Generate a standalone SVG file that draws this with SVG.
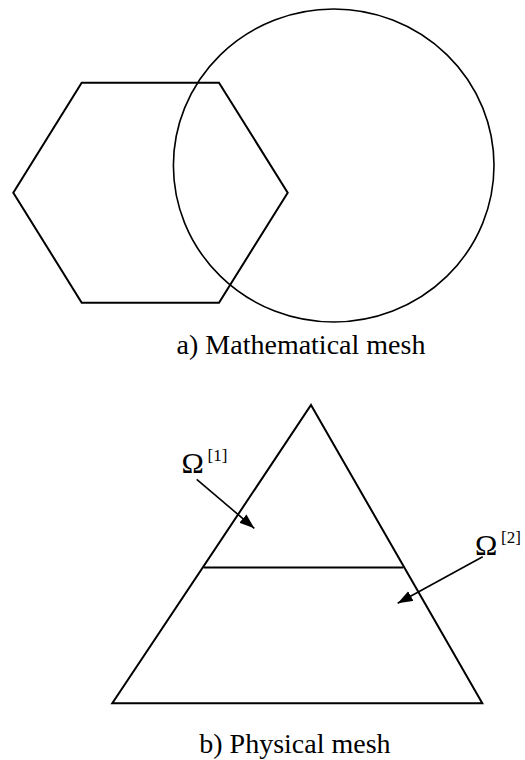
<svg xmlns="http://www.w3.org/2000/svg" width="525" height="760" viewBox="0 0 525 760">
<style>
.shape{fill:none;stroke:#000;stroke-width:2;stroke-linejoin:miter}
.thin{fill:none;stroke:#000;stroke-width:1.6}
.conn{fill:none;stroke:#000;stroke-width:1.6}
text{font-family:'Liberation Serif','DejaVu Serif',serif;fill:#000}
.cap{font-size:28px}
.om{font-size:30px}
.sup{font-size:17px}
</style>
<defs>
<marker id="arr" markerUnits="userSpaceOnUse" markerWidth="16" markerHeight="12" refX="15" refY="5.5" orient="auto">
<path d="M0,0 L15,5.5 L0,11 z" fill="#000"/>
</marker>
</defs>
<rect width="525" height="760" fill="#fff"/>
<g id="hexagon">
<polygon class="shape" points="81.7,82.7 219,82.7 287.7,192.7 219,302.7 81.7,302.7 13.3,192.7"/>
</g>
<g id="circle">
<ellipse class="thin" cx="333.7" cy="165.5" rx="160.3" ry="156.5"/>
</g>
<g id="caption-a">
<text class="cap" font-family="Liberation Serif, serif" x="301" y="354" text-anchor="middle">a) Mathematical mesh</text>
</g>
<g id="triangle">
<polygon class="shape" points="311,405 482.3,703.3 112.3,703.3"/>
<line class="shape" x1="203.7" y1="567.5" x2="403.3" y2="567.5"/>
</g>
<g id="label-omega1">
<text class="om" font-family="Liberation Serif, serif" x="181.5" y="473">Ω</text>
<text class="sup" font-family="Liberation Serif, serif" x="207.5" y="461">[1]</text>
</g>
<g id="label-omega2">
<text class="om" font-family="Liberation Serif, serif" x="475" y="555">Ω</text>
<text class="sup" font-family="Liberation Serif, serif" x="501" y="543">[2]</text>
</g>
<g id="connectors">
<line class="conn" x1="196.7" y1="479.3" x2="254.3" y2="528.3" marker-end="url(#arr)"/>
<line class="conn" x1="482.7" y1="556.7" x2="397.7" y2="603.3" marker-end="url(#arr)"/>
</g>
<g id="caption-b">
<text class="cap" font-family="Liberation Serif, serif" x="199.3" y="752.7">b) Physical mesh</text>
</g>
</svg>
